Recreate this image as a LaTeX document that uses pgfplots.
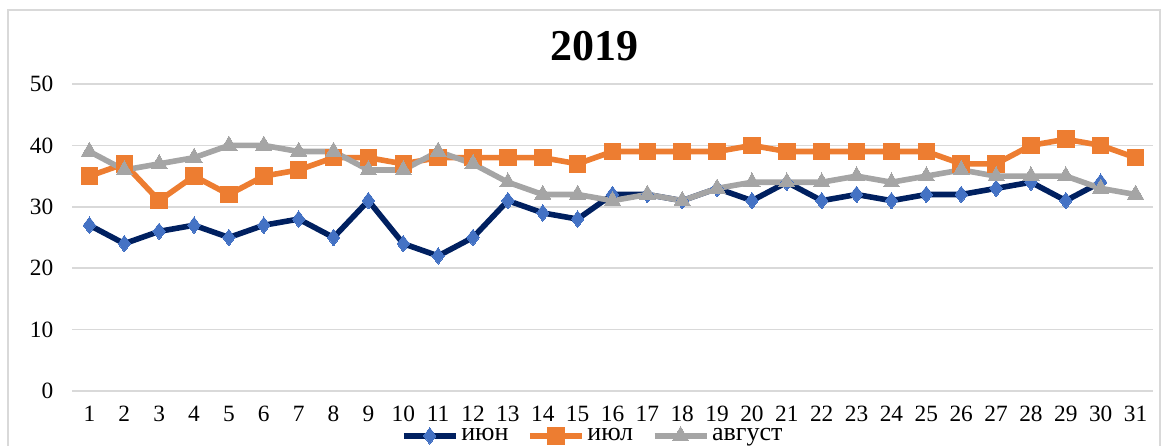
\documentclass[border=0pt]{standalone}
\usepackage{fontspec}
\setmainfont{Liberation Serif}
\usepackage{pgfplots}
\pgfplotsset{compat=1.18}
\definecolor{junline}{HTML}{002060}
\definecolor{junmark}{HTML}{4472C4}
\definecolor{julc}{HTML}{ED7D31}
\definecolor{augc}{HTML}{A5A5A5}
\definecolor{gridc}{HTML}{D9D9D9}
\begin{document}
\begin{tikzpicture}
\path[use as bounding box] (0,0) rectangle (876pt,334.5pt);
\begin{scope}
\clip (0,0) rectangle (876pt,334.5pt);
\draw[gridc, line width=1.2pt] (6pt,-20pt) rectangle (870pt,327pt);
\end{scope}
\begin{axis}[
  at={(54pt,41.25pt)}, anchor=south west,
  scale only axis, width=810.75pt, height=230.25pt,
  xmin=0.5, xmax=31.5, ymin=0, ymax=50,
  xtick={1,...,31}, ytick={0,10,...,50},
  major tick length=0pt,
  axis line style={draw=none},
  ymajorgrids, grid style={gridc, line width=1.1pt},
  font=\fontsize{17.5}{20}\selectfont,
  /pgf/number format/assume math mode=true,
  xticklabel style={yshift=-8pt},
  yticklabel style={xshift=-10.5pt},
  title={\fontsize{33}{38}\selectfont\bfseries 2019},
  title style={at={(0.483,1.052)}, anchor=base},
  legend style={at={(0.482,-0.146)}, anchor=center, draw=none, fill=none,
    legend columns=-1, font=\fontsize{19.5}{22}\selectfont,
    /tikz/every even column/.append style={column sep=12pt},
    inner sep=0pt},
  legend image code/.code={\draw[mark repeat=2,mark phase=2,#1] plot coordinates {(0pt,0pt) (19.5pt,0pt) (39pt,0pt)};},
  every axis plot/.append style={line width=4.2pt, line join=round},
]
\addplot[color=junline, mark=diamond*, mark size=6.2pt, mark options={fill=junmark, draw=junmark, line width=0pt}]
coordinates {(1,27)(2,24)(3,26)(4,27)(5,25)(6,27)(7,28)(8,25)(9,31)(10,24)(11,22)(12,25)(13,31)(14,29)(15,28)(16,32)(17,32)(18,31)(19,33)(20,31)(21,34)(22,31)(23,32)(24,31)(25,32)(26,32)(27,33)(28,34)(29,31)(30,34)};
\addlegendentry{июн}
\addplot[color=julc, mark=square*, mark size=6.2pt, mark options={fill=julc, draw=julc, line width=0pt}]
coordinates {(1,35)(2,37)(3,31)(4,35)(5,32)(6,35)(7,36)(8,38)(9,38)(10,37)(11,38)(12,38)(13,38)(14,38)(15,37)(16,39)(17,39)(18,39)(19,39)(20,40)(21,39)(22,39)(23,39)(24,39)(25,39)(26,37)(27,37)(28,40)(29,41)(30,40)(31,38)};
\addlegendentry{июл}
\addplot[color=augc, mark=triangle*, mark size=7pt, mark options={fill=augc, draw=augc, line width=0pt}]
coordinates {(1,39)(2,36)(3,37)(4,38)(5,40)(6,40)(7,39)(8,39)(9,36)(10,36)(11,39)(12,37)(13,34)(14,32)(15,32)(16,31)(17,32)(18,31)(19,33)(20,34)(21,34)(22,34)(23,35)(24,34)(25,35)(26,36)(27,35)(28,35)(29,35)(30,33)(31,32)};
\addlegendentry{август}
\end{axis}
\end{tikzpicture}
\end{document}
